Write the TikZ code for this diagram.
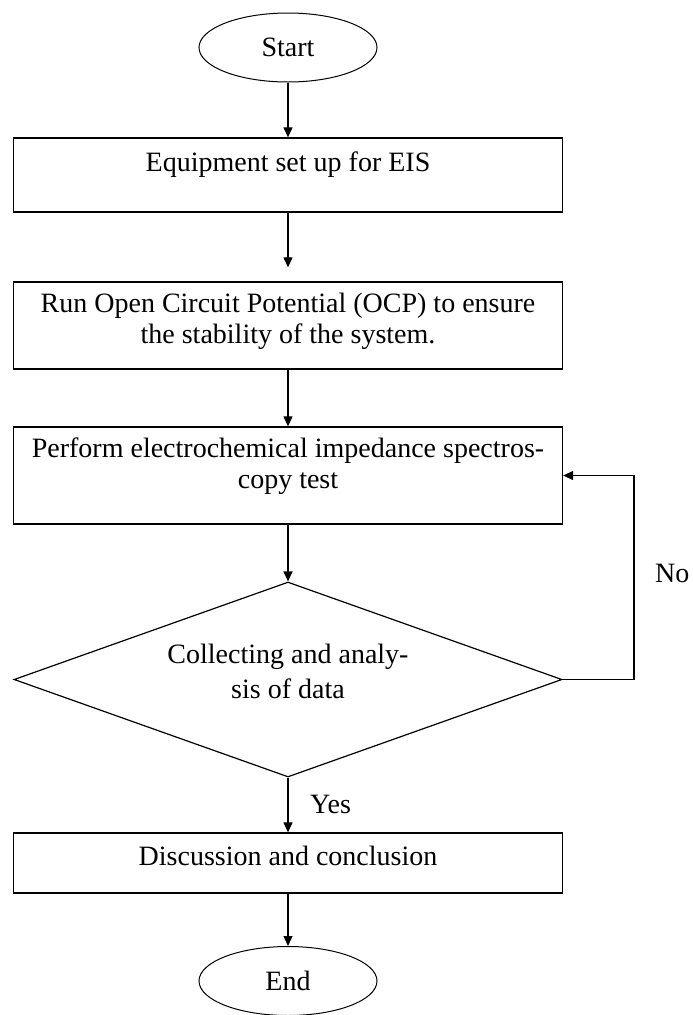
\documentclass[tikz,border=0pt]{standalone}
\usepackage{fontspec}
\setmainfont{Liberation Serif}
\usetikzlibrary{shapes.geometric,arrows.meta}
\begin{document}
\begin{tikzpicture}[x=1pt,y=-1pt,
 box/.style={draw, line width=1.3pt, minimum width=549pt, inner sep=0pt},
 term/.style={draw, ellipse, line width=1pt, minimum width=178pt, minimum height=69pt, inner sep=0pt},
 txt/.style={font=\fontsize{28}{31}\selectfont, align=center, inner sep=0pt},
 arr/.style={line width=1.2pt, -{Triangle[length=10pt,width=9pt]}},
]
\useasboundingbox (0,0) rectangle (693,1015);
\node[term, txt] (start) at (288,47.5) {Start};
\node[box, minimum height=74pt] (b1) at (288,175) {};
\node[txt, anchor=base] (t1) at (288,171) {Equipment set up for EIS};
\node[box, minimum height=87pt] (b2) at (288,325.5) {};
\node[txt, anchor=base] (t2) at (288,343) {Run Open Circuit Potential (OCP) to ensure\\the stability of the system.};
\node[box, minimum height=97pt] (b3) at (288,475.5) {};
\node[txt, anchor=base] (t3) at (288,488) {Perform electrochemical impedance spectros-\\copy test};
\node[draw, diamond, line width=1.2pt, minimum width=548pt, minimum height=195pt, inner sep=0pt] (d) at (288,679.5) {};
\node[txt, anchor=base, font=\fontsize{28}{35}\selectfont] (td) at (288,698) {Collecting and analy-\\sis of data};
\node[box, minimum height=60pt] (b4) at (288,863) {};
\node[txt, anchor=base] (t4) at (288,865) {Discussion and conclusion};
\node[term, txt] (end) at (288,981) {End};
\node[txt, anchor=base west] (yes) at (310,813) {Yes};
\node[txt, anchor=base west] (no) at (655,582) {No};
\draw[arr] (start) -- (b1);
\draw[arr, shorten >=14pt] (b1) -- (b2);
\draw[arr] (b2) -- (b3);
\draw[arr] (b3) -- (d);
\draw[arr] (d) -- (b4);
\draw[arr] (b4) -- (end);
\coordinate (lp) at (634,475.5);
\draw[arr] (d.east) -| (lp) -- (b3.east);
\end{tikzpicture}
\end{document}
